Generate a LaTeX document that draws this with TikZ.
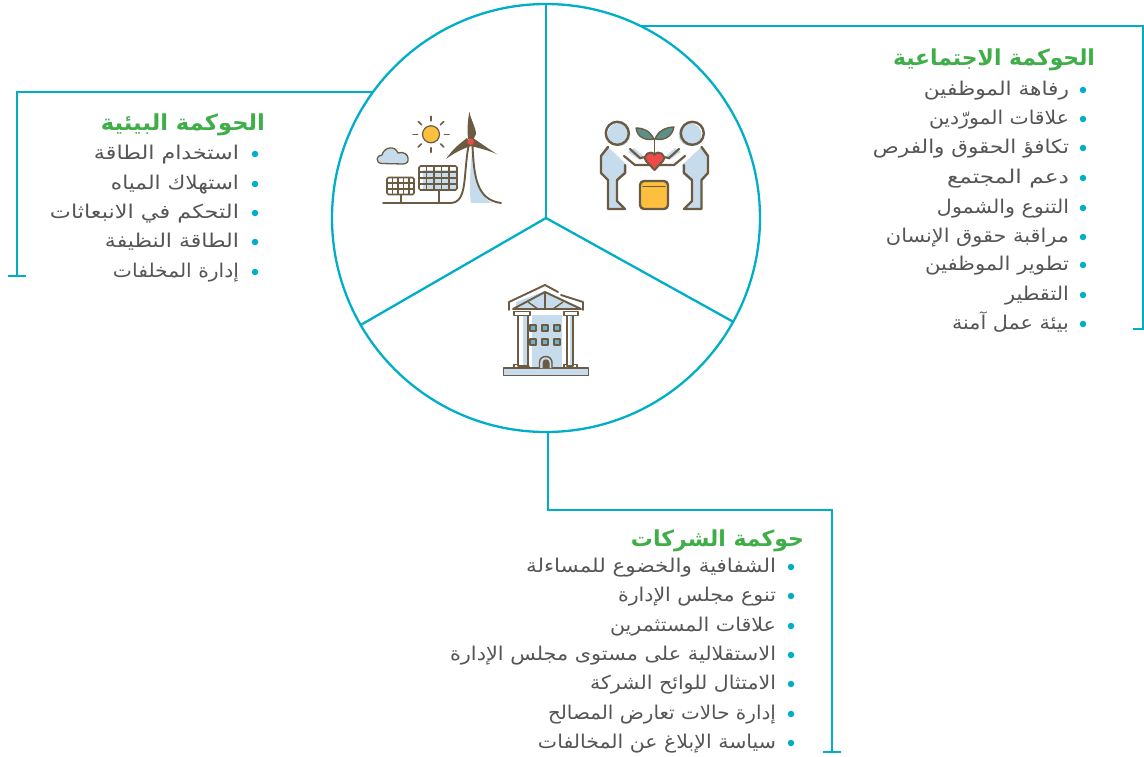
\documentclass[tikz,border=0pt]{standalone}
\usepackage{fontspec}
\usepackage{graphicx}
\newfontfamily\arabicfont[Script=Arabic]{DejaVu Sans}
\TeXXeTstate=1
\definecolor{tealline}{HTML}{00AEC7}
\definecolor{greenhead}{HTML}{3FAE49}
\definecolor{bodytext}{HTML}{555555}
\definecolor{brownline}{HTML}{6B5B42}
\definecolor{paleblue}{HTML}{C6DCEC}
\definecolor{sunyellow}{HTML}{FDBF3E}
\definecolor{heartred}{HTML}{EE4A4A}
\definecolor{leafteal}{HTML}{5B8F87}
\definecolor{windowblue}{HTML}{6FB3C4}
\newcommand{\artxt}[2]{\resizebox{#1pt}{\height}{\arabicfont #2}}
\newcommand{\arhead}[2]{\resizebox{#1pt}{\height}{\arabicfont\bfseries #2}}
\tikzset{
  wheel/.style={circle,draw=tealline,line width=2.3pt,minimum size=428pt,inner sep=0pt,outer sep=0pt},
  tealwire/.style={draw=tealline,line width=2.3pt},
  itemtext/.style={anchor=base east,inner sep=0pt,outer sep=0pt,text=bodytext,yshift=-6pt,font=\fontsize{19pt}{22pt}\selectfont},
  headtext/.style={anchor=base east,inner sep=0pt,outer sep=0pt,text=greenhead,yshift=-7pt,font=\fontsize{22pt}{25pt}\selectfont},
  dotmark/.style={circle,fill=tealline,minimum size=6.5pt,inner sep=0pt,outer sep=0pt},
  icon/.style={draw=brownline,line width=1.9pt,line join=round,line cap=round},
  thin icon/.style={draw=brownline,line width=1.1pt},
}
\begin{document}
\begin{tikzpicture}[x=1pt,y=-1pt]
\useasboundingbox (0,0) rectangle (1144,756);
\node[wheel] (c) at (546,218) {};
\coordinate (hub) at (546,218);
\draw[tealwire] (c.90) -- (hub);
\draw[tealwire] (c.210.2) -- (hub);
\draw[tealwire] (c.-29.3) -- (hub);
% connector frames
\coordinate (rtB) at (1143,329); \coordinate (rtC) at (1133,329);
\draw[tealwire,line join=miter] (c.64.4) -| (rtB) -- (rtC);
\coordinate (ltB) at (17,276); \coordinate (ltC) at (8,276); \coordinate (ltD) at (26,276);
\draw[tealwire] (c.144.3) -| (ltB);
\draw[tealwire] (ltC) -- (ltD);
\coordinate (btA) at (548,510); \coordinate (btB) at (832,510); \coordinate (btC) at (832,752); \coordinate (btD) at (823,752); \coordinate (btE) at (841,752);
\draw[tealwire] (c.south -| btA) -- (btA) -- (btB) -- (btC);
\draw[tealwire] (btD) -- (btE);
% right block
\node[headtext] (rh) at (1095,58) {\arhead{202}{\beginR الحوكمة الاجتماعية\endR}};
\node[itemtext] (r1) at (1069,89) {\artxt{145}{\beginR رفاهة الموظفين\endR}};
\node[itemtext] (r2) at (1069,118) {\artxt{140}{\beginR علاقات المورّدين\endR}};
\node[itemtext] (r3) at (1069,147) {\artxt{196}{\beginR تكافؤ الحقوق والفرص\endR}};
\node[itemtext] (r4) at (1069,177) {\artxt{122}{\beginR دعم المجتمع\endR}};
\node[itemtext] (r5) at (1069,207) {\artxt{132}{\beginR التنوع والشمول\endR}};
\node[itemtext] (r6) at (1069,236) {\artxt{183}{\beginR مراقبة حقوق الإنسان\endR}};
\node[itemtext] (r7) at (1069,264) {\artxt{144}{\beginR تطوير الموظفين\endR}};
\node[itemtext] (r8) at (1069,294) {\artxt{64}{\beginR التقطير\endR}};
\node[itemtext] (r9) at (1069,323) {\artxt{117}{\beginR بيئة عمل آمنة\endR}};
\foreach \yy [count=\i] in {89,118,147,177,207,236,264,294,323} \node[dotmark] (rd\i) at (1083,\yy+1) {};
% left block
\node[headtext] (lh) at (265,123) {\arhead{164}{\beginR الحوكمة البيئية\endR}};
\node[itemtext] (l1) at (239,153) {\artxt{145}{\beginR استخدام الطاقة\endR}};
\node[itemtext] (l2) at (239,183) {\artxt{128}{\beginR استهلاك المياه\endR}};
\node[itemtext] (l3) at (239,212) {\artxt{189}{\beginR التحكم في الانبعاثات\endR}};
\node[itemtext] (l4) at (239,241) {\artxt{134}{\beginR الطاقة النظيفة\endR}};
\node[itemtext] (l5) at (239,271) {\artxt{126}{\beginR إدارة المخلفات\endR}};
\foreach \yy [count=\i] in {153,183,212,241,271} \node[dotmark] (ld\i) at (255,\yy+1) {};
% bottom block
\node[headtext] (bh) at (804,539) {\arhead{173}{\beginR حوكمة الشركات\endR}};
\node[itemtext] (b1) at (776,566) {\artxt{250}{\beginR الشفافية والخضوع للمساءلة\endR}};
\node[itemtext] (b2) at (776,595) {\artxt{158}{\beginR تنوع مجلس الإدارة\endR}};
\node[itemtext] (b3) at (776,625) {\artxt{166}{\beginR علاقات المستثمرين\endR}};
\node[itemtext] (b4) at (776,654) {\artxt{326}{\beginR الاستقلالية على مستوى مجلس الإدارة\endR}};
\node[itemtext] (b5) at (776,683) {\artxt{186}{\beginR الامتثال للوائح الشركة\endR}};
\node[itemtext] (b6) at (776,713) {\artxt{228}{\beginR إدارة حالات تعارض المصالح\endR}};
\node[itemtext] (b7) at (776,742) {\artxt{238}{\beginR سياسة الإبلاغ عن المخالفات\endR}};
\foreach \yy [count=\i] in {566,595,625,654,683,713,742} \node[dotmark] (bd\i) at (791,\yy+1) {};
% ---- environment icon
\fill[paleblue] (423,170) -- (457,170) -- (457,190) -- (423,190) -- cycle;
\draw[icon,fill=sunyellow,line width=1.2pt] (431,134.3) circle (8.5);
\foreach \a in {0,45,...,315} \draw[icon,line width=1.6pt] (431,134.3) ++(\a:13.5) -- ++(\a:4.5);
\draw[icon,fill=paleblue,line width=1.3pt] (382,163.5) .. controls (375,163) and (376,155) .. (382,155) .. controls (384,147) and (395,145) .. (398,153) .. controls (404,151) and (408,155) .. (408,158) .. controls (409,162) and (406,164) .. (403,164) -- cycle;
\foreach \xx in {426.5,434,441.5,449} \draw[thin icon] (\xx,166) -- (\xx,190);
\foreach \yy in {172,178,184} \draw[thin icon] (419,\yy) -- (457,\yy);
\draw[icon,line width=1.7pt,rounded corners=1.5pt] (419,166) rectangle (457,190);
\foreach \xx in {392.5,398,403.5,409} \draw[thin icon] (\xx,177.5) -- (\xx,194.5);
\foreach \yy in {183,189} \draw[thin icon] (387,\yy) -- (414,\yy);
\draw[icon,line width=1.7pt,rounded corners=1.5pt] (387,177.5) rectangle (414,194.5);
\draw[icon,line width=2.2pt,line cap=butt] (400.7,195) -- (400.7,203);
\draw[icon,line width=2.2pt,line cap=butt] (438.7,190) -- (438.7,203);
\fill[paleblue] (472.5,146) .. controls (474,170) and (476,195) .. (492,203) -- (471,203) .. controls (469,190) and (470,170) .. (472.5,146) -- cycle;
\draw[icon] (383,203) -- (450,203) .. controls (468,203) and (463,175) .. (468.5,146);
\draw[icon] (472.5,146) .. controls (474,175) and (476,200) .. (501,203);
\fill[brownline] (469.3,111.7) .. controls (471,120) and (476,128) .. (476,134) -- (473,140) -- (468,139) .. controls (467,128) and (468,120) .. (469.3,111.7) -- cycle;
\fill[brownline] (446,159) .. controls (452,150) and (459,144) .. (467,138) -- (471,146) .. controls (462,149) and (454,153) .. (446,159) -- cycle;
\fill[brownline] (497.3,154.3) .. controls (490,150) and (482,144) .. (473,138) -- (470,146) .. controls (480,148) and (490,151) .. (497.3,154.3) -- cycle;
\fill[heartred] (470.7,141.7) circle (3.2);
% ---- people icon
\fill[paleblue] (619,134.5) circle (11.5);
\fill[paleblue] (690,134.5) circle (11.5);
\draw[icon,line width=2.4pt] (617.3,133.3) circle (11.5);
\draw[icon,line width=2.4pt] (692.3,133.3) circle (11.5);
\fill[paleblue] (608,147) -- (627,165) -- (627,173) -- (617,182) -- (617,200) -- (625,209) -- (608,209) -- (608,180) -- (601,173) -- (601,156) -- cycle;
\fill[paleblue] (701.5,147) -- (682,165) -- (682,173) -- (692,182) -- (692,200) -- (684,209) -- (701.5,209) -- (701.5,180) -- (708,173) -- (708,156) -- cycle;
\draw[icon,line width=2.4pt] (608,147) -- (601,156) -- (601,173) -- (608,180) -- (608,209) -- (625,209) -- (617,201) -- (617,180) -- (625,173) -- (625,165);
\draw[icon,line width=2.4pt] (701.5,147) -- (708,156) -- (708,173) -- (701.5,180) -- (701.5,209) -- (684,209) -- (692,201) -- (692,180) -- (684,173) -- (684,165);
\fill[paleblue] (628,152) -- (634,148) -- (644,157) -- (640,160) -- cycle;
\fill[paleblue] (681,152) -- (675,148) -- (665,157) -- (669,160) -- cycle;
\draw[icon,line width=2.2pt] (630,149) -- (640,158) -- (646,157);
\draw[icon,line width=2.2pt] (624,156) -- (635,165) -- (650,165);
\draw[icon,line width=2.2pt] (679,149) -- (669,158) -- (663,157);
\draw[icon,line width=2.2pt] (685,156) -- (674,165) -- (659,165);
\draw[icon,fill=sunyellow,line width=2.4pt,rounded corners=4pt] (640,181) rectangle (668,209);
\draw[icon,line width=1.6pt] (643,186.5) -- (665,186.5);
\draw[icon,line width=1.7pt] (654.5,153) -- (654.5,139);
\draw[icon,fill=leafteal,line width=1.3pt] (654,139) .. controls (650,131) and (644,128) .. (636,128) .. controls (637,137) and (645,141) .. (654,139) -- cycle;
\draw[icon,fill=leafteal,line width=1.3pt] (655,139) .. controls (658,131) and (666,127) .. (674,127) .. controls (672,137) and (664,141) .. (655,139) -- cycle;
\draw[icon,fill=heartred,line width=2pt] (654.5,170) -- (646,161) .. controls (642,155) and (651,149) .. (654.5,155) .. controls (658,149) and (667,155) .. (663,161) -- cycle;
% ---- building icon
\fill[paleblue] (532,315) rectangle (562,368);
\fill[paleblue] (516,302) -- (545,291) -- (580,307) -- (580,309) -- (516,309) -- cycle;
\draw[icon,fill=paleblue,line width=1.9pt] (503.5,368) rectangle (588.5,375.5);
\draw[icon] (561,295) -- (583,302) -- (583,310);
\draw[icon] (509,310) -- (509,302) -- (545,285) -- (558,292);
\draw[icon] (581,309) -- (513,309) -- (545,292) -- cycle;
\draw[thin icon,line width=1.4pt] (545,292) -- (545,309);
\draw[thin icon,line width=1.4pt] (528,302) -- (538,309);
\draw[thin icon,line width=1.4pt] (563,302) -- (553,309);
\draw[icon,fill=white,line width=1.6pt] (518,315) -- (518,366) -- (528,366) -- (528,315);
\draw[icon,fill=white,line width=1.6pt] (567,315) -- (567,366) -- (573,366) -- (573,315);
\fill[paleblue] (522.5,316) rectangle (527,365);
\fill[paleblue] (569.5,316) rectangle (572.3,365);
\draw[icon,fill=white,line width=1.6pt] (514,311.5) rectangle (530,315.5);
\draw[icon,fill=white,line width=1.6pt] (564,311.5) rectangle (578,315.5);
\draw[icon,line width=1.6pt] (514,367) -- (514,364.5) -- (518,364.5);
\draw[icon,line width=1.6pt] (528,364.5) -- (529,367);
\draw[icon,line width=1.6pt] (564,367) -- (564,364.5) -- (567,364.5);
\draw[icon,line width=1.6pt] (573,364.5) -- (577,364.5) -- (577,367);
\foreach \xx in {533,545,557} \foreach \yy in {328,342} \draw[icon,fill=windowblue,line width=1.5pt,line cap=butt] (\xx-3.2,\yy-3.2) rectangle (\xx+3.2,\yy+3.2);
\draw[icon,fill=paleblue,line width=1.4pt,line cap=butt] (539.5,368) -- (539.5,362.5) .. controls (539.5,354.5) and (552,354.5) .. (552,362.5) -- (552,368);
\fill[brownline] (542.5,368) -- (542.5,363) .. controls (542.5,358) and (549.5,358) .. (549.5,363) -- (549.5,368) -- cycle;
\end{tikzpicture}
\end{document}
